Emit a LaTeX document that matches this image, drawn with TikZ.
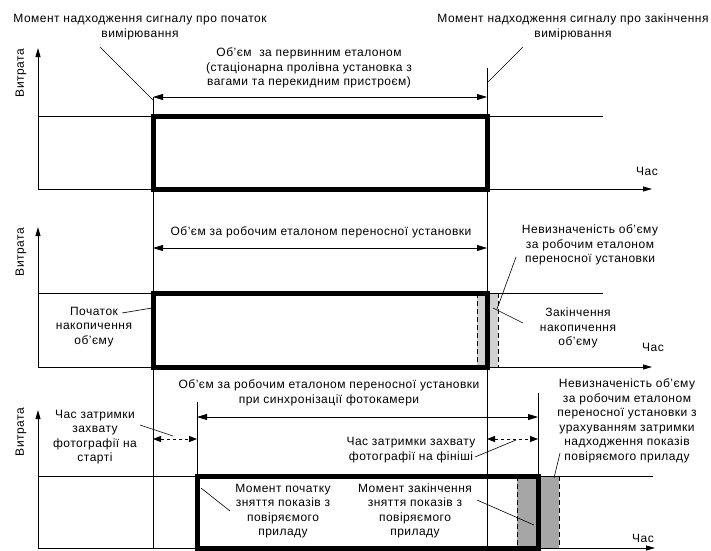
\documentclass[tikz,border=0pt]{standalone}
\usepackage{fontspec}
\setmainfont{Liberation Sans}[LetterSpace=4]
\usetikzlibrary{arrows.meta}
\begin{document}
\begin{tikzpicture}[x=1pt,y=-1pt,
  thinln/.style={line width=0.8pt},
  thickbox/.style={line width=5pt},
  axis/.style={line width=0.8pt,-{Triangle[length=9pt,width=5pt]}},
  dimarrow/.style={line width=0.8pt,{Triangle[length=10pt,width=6pt]}-{Triangle[length=10pt,width=6pt]}},
  delayarrow/.style={line width=0.8pt,dash pattern=on 3pt off 3pt,{Triangle[length=8pt,width=6pt]}-{Triangle[length=8pt,width=6pt]}},
  lbl/.style={font=\fontsize{12}{14.5}\selectfont,align=center,inner sep=0pt},
  leader/.style={line width=0.6pt},
  unc/.style={line width=0.8pt,dash pattern=on 5pt off 3pt}
]
\useasboundingbox (0,0) rectangle (711,550);
% ---------- coordinates
\coordinate (s0) at (153,97);  \coordinate (sB) at (153,548);
\coordinate (e0) at (487,68);  \coordinate (eB) at (487,548);
% ================= TOP PANEL
\coordinate (o1) at (38,189);
\coordinate (y1) at (38,48);
\coordinate (x1) at (652,189);
\coordinate (l1a) at (38,116); \coordinate (l1b) at (603,116);
\draw[axis] (o1) -- (y1);
\draw[axis] (o1) -- (x1);
\draw[thinln] (l1a) -- (l1b);
\draw[thinln] (s0) -- (sB);
\draw[thinln] (e0) -- (eB);
\draw[thickbox] (153,116) rectangle (487,189);
\coordinate (d1a) at (153,97); \coordinate (d1b) at (487,97);
\draw[dimarrow] (d1a) -- (d1b);
\node[lbl,rotate=90] (v1) at (21,73) {Витрата};
\node[lbl] (t1) at (647,171) {Час};
\node[lbl] (ms) at (140,27) {Момент надходження сигналу про початок\\вимірювання};
\node[lbl] (me) at (573,27) {Момент надходження сигналу про закінчення\\вимірювання};
\node[lbl] (vp) at (309,68) {Об’єм\ \ за первинним еталоном\\(стаціонарна пролівна установка з\\вагами та перекидним пристроєм)};
\coordinate (ms1) at (100,47); \coordinate (ms2) at (153,100);
\coordinate (me1) at (523,47); \coordinate (me2) at (488,82);
\draw[leader] (ms1) -- (ms2);
\draw[leader] (me1) -- (me2);
% ================= MIDDLE PANEL
\fill[gray!35] (477,293) rectangle (498,367);
\coordinate (o2) at (38,367);
\coordinate (y2) at (38,227);
\coordinate (x2) at (652,367);
\coordinate (l2a) at (38,293); \coordinate (l2b) at (603,293);
\draw[axis] (o2) -- (y2);
\draw[axis] (o2) -- (x2);
\draw[thinln] (l2a) -- (l2b);
\draw[unc] (477,293) -- (477,367);
\draw[unc] (498,293) -- (498,367);
\draw[thickbox] (153,293) rectangle (487,367);
\coordinate (d2a) at (153,248); \coordinate (d2b) at (487,248);
\draw[dimarrow] (d2a) -- (d2b);
\node[lbl,rotate=90] (v2) at (21,252) {Витрата};
\node[lbl] (t2) at (653,347) {Час};
\node[lbl] (vr) at (321,232) {Об’єм за робочим еталоном переносної установки};
\node[lbl] (nu) at (590,245) {Невизначеність об’єму\\за робочим еталоном\\переносної установки};
\node[lbl] (za) at (578,328) {Закінчення\\накопичення\\об’єму};
\node[lbl] (po) at (94,327) {Початок\\накопичення\\об’єму};
\coordinate (po1) at (122,313); \coordinate (po2) at (152,308);
\coordinate (nu1) at (516,257); \coordinate (nu2) at (497,309);
\coordinate (za1) at (523,323); \coordinate (za2) at (493,308);
\draw[leader] (po1) -- (po2);
\draw[leader] (nu1) -- (nu2);
\draw[leader] (za1) -- (za2);
% ================= BOTTOM PANEL
\fill[gray!70] (517,476) rectangle (559,548);
\coordinate (o3) at (38,548);
\coordinate (y3) at (38,410);
\coordinate (x3) at (655,548);
\coordinate (l3a) at (38,476); \coordinate (l3b) at (653,476);
\draw[axis] (o3) -- (y3);
\draw[axis] (o3) -- (x3);
\draw[thinln] (l3a) -- (l3b);
\coordinate (c0) at (197,402); \coordinate (c1) at (197,476);
\coordinate (f0) at (538,393); \coordinate (f1) at (538,476);
\draw[thinln] (c0) -- (c1);
\draw[thinln] (f0) -- (f1);
\draw[unc] (517,476) -- (517,548);
\draw[unc] (559,476) -- (559,548);
\draw[thickbox] (197,476) rectangle (538,548);
\coordinate (d3a) at (197,417); \coordinate (d3b) at (538,417);
\draw[dimarrow] (d3a) -- (d3b);
\coordinate (ds1) at (153,439); \coordinate (ds2) at (197,439);
\coordinate (df1) at (487,439); \coordinate (df2) at (538,439);
\draw[delayarrow] (ds1) -- (ds2);
\draw[delayarrow] (df1) -- (df2);
\node[lbl,rotate=90] (v3) at (21,432) {Витрата};
\node[lbl] (t3) at (643,538) {Час};
\node[lbl] (vs) at (329,393) {Об’єм за робочим еталоном переносної установки\\при синхронізації фотокамери};
\node[lbl] (zs) at (95,437) {Час затримки\\захвату\\фотографії на\\старті};
\node[lbl] (zf) at (411,450) {Час затримки захвату\\фотографії на фініші};
\node[lbl] (mp) at (283,511) {Момент початку\\зняття показів з\\повіряємого\\приладу};
\node[lbl] (mz) at (415,511) {Момент закінчення\\зняття показів з\\повіряємого\\приладу};
\node[lbl] (nb) at (627,421) {Невизначеність об’єму\\за робочим еталоном\\переносної установки з\\урахуванням затримки\\надходження показів\\повіряємого приладу};
\coordinate (zs1) at (140,425); \coordinate (zs2) at (173,436);
\coordinate (zf1) at (475,457); \coordinate (zf2) at (516,440);
\coordinate (mp1) at (201,488); \coordinate (mp2) at (230,511);
\coordinate (mz1) at (477,500); \coordinate (mz2) at (534,525);
\coordinate (nb1) at (560,453); \coordinate (nb2) at (554,478);
\draw[leader] (zs1) -- (zs2);
\draw[leader] (zf1) -- (zf2);
\draw[leader] (mp1) -- (mp2);
\draw[leader] (mz1) -- (mz2);
\draw[leader] (nb1) -- (nb2);
\end{tikzpicture}
\end{document}
